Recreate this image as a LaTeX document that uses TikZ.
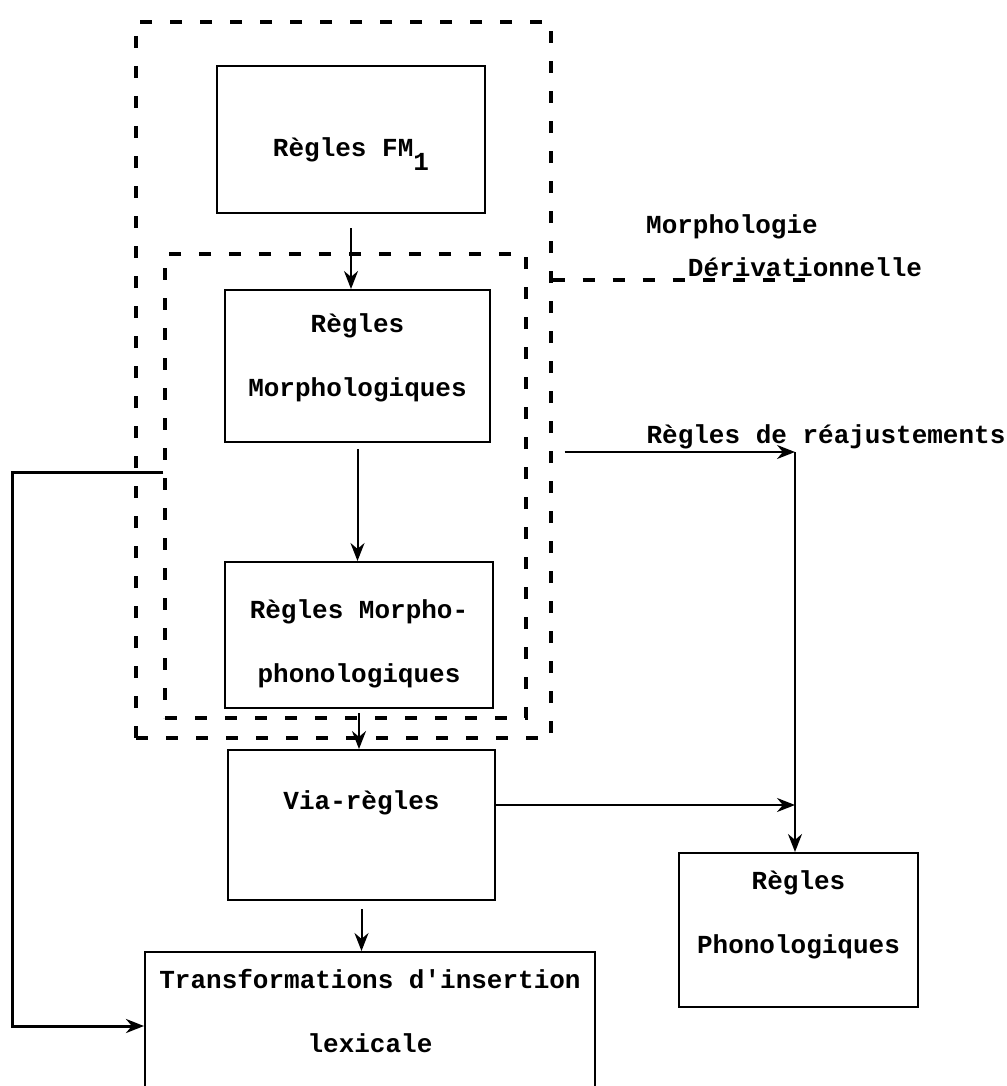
\documentclass[tikz,border=0pt]{standalone}
\usepackage{fontspec}
\setmonofont{Liberation Mono}
\usetikzlibrary{arrows.meta}

\begin{document}
\begin{tikzpicture}[x=0.5pt,y=-0.5pt,
  every node/.style={font=\ttfamily\bfseries\fontsize{13}{32}\selectfont},
  every label/.style={align=center,inner sep=0pt},
  box/.style={draw,line width=1pt,inner sep=0pt},
  group/.style={draw,line width=1.6pt,dash pattern=on 6pt off 9pt},
  arr/.style={-{Stealth[length=9pt,width=7pt]},line width=1pt}]
\clip (0,0) rectangle (1006,1086);

\node[group,minimum width=207.5pt,minimum height=358pt](outer) at (343.5,380){};
\node[group,minimum width=180.5pt,minimum height=232pt](inner) at (345.5,486){};

\node[box,minimum width=134pt,minimum height=73.5pt,
  label={[yshift=-7.5pt]center:R\`egles FM\raisebox{-7pt}{1}}](fm) at (351,139.5){};
\node[box,minimum width=132.5pt,minimum height=76pt,
  label={[yshift=4pt]center:R\`egles\\Morphologiques}](morph) at (357.5,366){};
\node[box,minimum width=134pt,minimum height=73pt,
  label={[yshift=-4.5pt]center:R\`egles Morpho-\\phonologiques}](mphon) at (359,635){};
\node[box,minimum width=133.5pt,minimum height=75pt,
  label={[yshift=11pt]center:Via-r\`egles}](via) at (361.5,825){};
\node[box,minimum width=225pt,minimum height=74pt,
  label={[yshift=7.5pt]center:Transformations d\textquotesingle insertion\\lexicale}](transf) at (370,1026){};
\node[box,minimum width=119.5pt,minimum height=77pt,
  label={[yshift=7.5pt]center:R\`egles\\Phonologiques}](phon) at (798.5,930){};

\node(morphol) at (732,227){Morphologie};
\node(deriv) at (805,267){D\'erivationnelle};
\node(reaj) at (826,437){R\`egles de r\'eajustements};

\coordinate (dv) at (813,280);
\coordinate (rj) at (795,452);
\coordinate (lft) at (12,1025);
\coordinate (vo) at ([yshift=10pt]via.east);

\draw[arr] ([yshift=-7pt]fm.south) -- (fm.south |- morph.north);
\draw[arr] ([yshift=-3pt]morph.south) -- (morph.south |- mphon.north);
\draw[arr] ([yshift=-2pt]mphon.south) -- (mphon.south |- via.north);
\draw[arr] ([yshift=-4pt]via.south) -- (via.south |- transf.north);

\draw[group] ([yshift=50pt]outer.east) -- (dv);
\draw[arr,shorten <=6pt] ([yshift=-36pt]outer.east) -- (rj);
\draw[arr] (rj) -- (rj |- phon.north);
\draw[arr] (vo) -- (vo -| rj);
\draw[arr,line width=1.5pt] ([yshift=7pt]inner.west) -| (lft) |- (transf.west);
\end{tikzpicture}
\end{document}
